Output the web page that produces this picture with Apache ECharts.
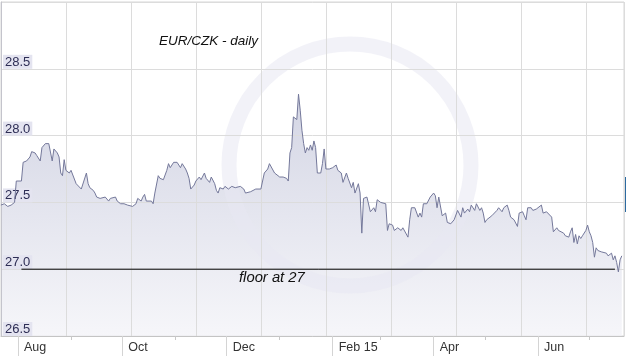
<!DOCTYPE html>
<html><head><meta charset="utf-8">
<script src="https://cdn.jsdelivr.net/npm/echarts@6/dist/echarts.min.js"></script>
<style>html,body{margin:0;padding:0;background:#fff}#c{width:626px;height:359px}</style>
</head><body><div id="c"></div>
<script>
const dates = [
'2014-07-22','2014-07-24','2014-07-26','2014-07-28','2014-07-30','2014-07-31','2014-08-01','2014-08-03','2014-08-04','2014-08-06',
'2014-08-08','2014-08-09','2014-08-10','2014-08-11','2014-08-12','2014-08-14','2014-08-15','2014-08-17','2014-08-19','2014-08-20',
'2014-08-21','2014-08-22','2014-08-24','2014-08-25','2014-08-26','2014-08-27','2014-08-28','2014-08-29','2014-08-31','2014-09-01',
'2014-09-02','2014-09-04','2014-09-05','2014-09-07','2014-09-08','2014-09-10','2014-09-11','2014-09-12','2014-09-14','2014-09-15',
'2014-09-16','2014-09-18','2014-09-19','2014-09-21','2014-09-23','2014-09-24','2014-09-25','2014-09-27','2014-09-28','2014-09-30',
'2014-10-02','2014-10-04','2014-10-05','2014-10-07','2014-10-08','2014-10-09','2014-10-10','2014-10-12','2014-10-13','2014-10-14',
'2014-10-15','2014-10-16','2014-10-18','2014-10-19','2014-10-20','2014-10-22','2014-10-23','2014-10-25','2014-10-27','2014-10-28',
'2014-10-29','2014-10-31','2014-11-01','2014-11-02','2014-11-04','2014-11-05','2014-11-07','2014-11-08','2014-11-09','2014-11-10',
'2014-11-12','2014-11-13','2014-11-15','2014-11-16','2014-11-18','2014-11-19','2014-11-21','2014-11-22','2014-11-24','2014-11-25',
'2014-11-26','2014-11-27','2014-11-29','2014-11-30','2014-12-02','2014-12-04','2014-12-06','2014-12-07','2014-12-09','2014-12-10',
'2014-12-11','2014-12-12','2014-12-15','2014-12-16','2014-12-18','2014-12-19','2014-12-21','2014-12-22','2014-12-23','2014-12-25',
'2014-12-26','2014-12-27','2014-12-29','2014-12-30','2015-01-01','2015-01-03','2015-01-04','2015-01-05','2015-01-06','2015-01-07',
'2015-01-08','2015-01-09','2015-01-10','2015-01-11','2015-01-12','2015-01-13','2015-01-14','2015-01-15','2015-01-16','2015-01-17',
'2015-01-18','2015-01-19','2015-01-20','2015-01-21','2015-01-22','2015-01-23','2015-01-24','2015-01-25','2015-01-26','2015-01-27',
'2015-01-28','2015-01-29','2015-01-30','2015-02-01','2015-02-03','2015-02-04','2015-02-06','2015-02-07','2015-02-09','2015-02-10',
'2015-02-12','2015-02-13','2015-02-14','2015-02-16','2015-02-17','2015-02-18','2015-02-19','2015-02-21','2015-02-22','2015-02-23',
'2015-02-25','2015-02-26','2015-02-27','2015-03-01','2015-03-02','2015-03-04','2015-03-05','2015-03-06','2015-03-08','2015-03-09',
'2015-03-11','2015-03-13','2015-03-14','2015-03-15','2015-03-17','2015-03-18','2015-03-19','2015-03-21','2015-03-23','2015-03-24',
'2015-03-25','2015-03-26','2015-03-28','2015-03-29','2015-03-30','2015-04-01','2015-04-02','2015-04-03','2015-04-04','2015-04-05',
'2015-04-06','2015-04-08','2015-04-09','2015-04-11','2015-04-12','2015-04-13','2015-04-15','2015-04-16','2015-04-17','2015-04-18',
'2015-04-19','2015-04-21','2015-04-22','2015-04-23','2015-04-25','2015-04-26','2015-04-27','2015-04-28','2015-04-29','2015-04-30',
'2015-05-01','2015-05-02','2015-05-03','2015-05-05','2015-05-06','2015-05-08','2015-05-09','2015-05-11','2015-05-12','2015-05-14',
'2015-05-15','2015-05-16','2015-05-17','2015-05-18','2015-05-20','2015-05-21','2015-05-23','2015-05-24','2015-05-25','2015-05-26',
'2015-05-28','2015-05-29','2015-05-31','2015-06-01','2015-06-03','2015-06-04','2015-06-05','2015-06-06','2015-06-07','2015-06-09',
'2015-06-10','2015-06-12','2015-06-13','2015-06-14','2015-06-16','2015-06-17','2015-06-19','2015-06-20','2015-06-21','2015-06-22',
'2015-06-23','2015-06-24','2015-06-25','2015-06-26','2015-06-27','2015-06-28','2015-06-29','2015-06-30','2015-07-01','2015-07-02',
'2015-07-03','2015-07-04','2015-07-05','2015-07-06','2015-07-08','2015-07-09','2015-07-11','2015-07-12','2015-07-14','2015-07-15',
'2015-07-16','2015-07-17','2015-07-18','2015-07-19','2015-07-20'
];
const rates = [
27.48,27.49,27.47,27.48,27.50,27.66,27.66,27.66,27.80,27.81,
27.84,27.88,27.87,27.87,27.85,27.81,27.91,27.94,27.94,27.93,
27.81,27.90,27.87,27.84,27.72,27.70,27.82,27.74,27.72,27.74,
27.73,27.64,27.63,27.60,27.61,27.72,27.64,27.61,27.59,27.57,
27.54,27.53,27.54,27.54,27.51,27.53,27.53,27.54,27.51,27.49,
27.49,27.48,27.47,27.47,27.48,27.49,27.53,27.51,27.54,27.56,
27.51,27.50,27.51,27.49,27.57,27.70,27.68,27.67,27.74,27.79,
27.76,27.80,27.81,27.80,27.76,27.79,27.75,27.72,27.68,27.60,
27.63,27.66,27.69,27.67,27.72,27.68,27.65,27.69,27.64,27.59,
27.57,27.61,27.60,27.62,27.60,27.62,27.61,27.62,27.62,27.62,
27.60,27.57,27.58,27.59,27.60,27.61,27.60,27.60,27.72,27.75,
27.79,27.78,27.72,27.71,27.69,27.69,27.70,27.68,27.66,27.87,
27.91,28.14,28.13,28.12,28.31,28.19,28.04,27.94,27.87,27.91,
27.89,27.93,27.89,27.96,27.91,27.72,27.72,27.72,27.79,27.90,
27.75,27.75,27.75,27.76,27.78,27.74,27.72,27.65,27.72,27.68,
27.61,27.65,27.57,27.64,27.57,27.27,27.53,27.54,27.53,27.43,
27.46,27.43,27.52,27.50,27.51,27.49,27.29,27.34,27.33,27.29,
27.31,27.29,27.31,27.31,27.24,27.37,27.46,27.46,27.39,27.42,
27.39,27.49,27.49,27.48,27.54,27.57,27.55,27.46,27.54,27.53,
27.40,27.42,27.35,27.34,27.35,27.37,27.44,27.45,27.39,27.46,
27.42,27.45,27.43,27.48,27.44,27.49,27.50,27.44,27.46,27.42,
27.35,27.37,27.38,27.40,27.39,27.44,27.46,27.43,27.46,27.48,
27.44,27.39,27.40,27.37,27.32,27.42,27.43,27.40,27.37,27.46,
27.46,27.44,27.45,27.46,27.48,27.42,27.42,27.43,27.43,27.39,
27.28,27.31,27.29,27.28,27.27,27.25,27.24,27.28,27.31,27.20,
27.26,27.19,27.25,27.23,27.25,27.24,27.29,27.33,27.28,27.25,
27.20,27.09,27.16,27.14,27.13,27.13,27.12,27.10,27.12,27.07,
27.10,27.05,26.98,27.07,27.10
];
const yTicks = [26.5, 27.0, 27.5, 28.0, 28.5];
const labelMonths = ['2014-08-01','2014-10-01','2014-12-01','2015-02-01','2015-04-01','2015-06-01'];
const minorMonths = ['2014-09-01','2014-11-01','2015-01-01','2015-03-01','2015-05-01','2015-07-01'];
const monthNames = ['Jan','Feb','Mar','Apr','May','Jun','Jul','Aug','Sep','Oct','Nov','Dec'];
const axisStart = '2014-07-22 01:30';
const axisEnd = '2015-07-21 07:00';
const floorValue = 27;
const floorStart = '2014-08-03';
const floorEnd = '2015-07-16';
const titleText = 'EUR/CZK - daily';
const floorText = 'floor at 27';

function ts(s){
  const p = s.split(/[- :]/).map(Number);
  return new Date(p[0], p[1]-1, p[2], p[3]||0, p[4]||0).getTime();
}
const seriesData = dates.map((d,i)=>[ts(d), rates[i]]);
const xMin = ts(axisStart), xMax = ts(axisEnd);

const chart = echarts.init(document.getElementById('c'), null, {renderer:'canvas'});
const FONT = 'Liberation Sans';
chart.setOption({
  animation:false,
  backgroundColor:'#ffffff',
  title:[
    {text:titleText,left:159,top:34,padding:0,z:8,textStyle:{fontFamily:FONT,fontStyle:'italic',fontWeight:'normal',fontSize:13.5,color:'#111'}},
    {text:floorText,left:239,top:270,padding:0,z:8,textStyle:{fontFamily:FONT,fontStyle:'italic',fontWeight:'normal',fontSize:14.8,color:'#111'}}
  ],
  grid:{left:1,right:2,top:2,bottom:23,show:true,borderColor:'#d6d6d6',borderWidth:1,backgroundColor:'transparent'},
  xAxis:[
    {type:'value',min:xMin,max:xMax,position:'bottom',scale:true,z:4,
     axisLine:{show:true,lineStyle:{color:'#c4c4c4',width:1}},
     axisTick:{show:true,customValues:labelMonths.map(ts),length:20,lineStyle:{color:'#d4d4d4'}},
     axisLabel:{show:true,customValues:labelMonths.map(ts),align:'left',padding:[0,0,0,6],margin:5,
       fontFamily:FONT,fontSize:12.5,color:'#333',
       formatter:function(v){const d=new Date(v);const m=monthNames[d.getMonth()];return d.getMonth()===1?m+' '+String(d.getFullYear()).slice(2):m;}},
     splitLine:{show:false}},
    {type:'value',min:xMin,max:xMax,position:'bottom',scale:true,z:4,
     axisLine:{show:false},
     axisTick:{show:true,customValues:minorMonths.map(ts),length:4,lineStyle:{color:'#c8c8c8'}},
     axisLabel:{show:false},splitLine:{show:false}},
    {type:'value',min:0,max:623/65,interval:1,position:'bottom',z:4,
     axisLine:{show:false},axisTick:{show:false},axisLabel:{show:false},
     splitLine:{show:true,lineStyle:{color:'#dcdcdc',width:1}}}
  ],
  yAxis:{type:'value',min:26.5,max:29,interval:0.5,z:4,
    axisLine:{show:true,lineStyle:{color:'#c4c4cc'}},
    axisTick:{show:false},
    splitLine:{show:true,lineStyle:{color:'#dcdcdc',width:1}},
    axisLabel:{inside:true,customValues:yTicks,margin:2,verticalAlign:'bottom',
      backgroundColor:'#e4e4f0',padding:[1,2,0,2],
      fontFamily:FONT,fontSize:13,color:'#2e2e55',
      formatter:function(v){return Number(v).toFixed(1);}}},
  series:[
    {type:'line',data:seriesData,xAxisIndex:0,symbol:'none',silent:true,z:2,
     lineStyle:{width:0,opacity:0},
     areaStyle:{color:new echarts.graphic.LinearGradient(0,0,0,1,[{offset:0,color:'#c1c4d9'},{offset:1,color:'#f2f2f7'}])}},
    {type:'line',data:seriesData,xAxisIndex:0,symbol:'none',silent:true,z:5,
     lineStyle:{color:'#74789a',width:1}},
    {type:'line',data:[[ts(floorStart),floorValue],[ts(floorEnd),floorValue]],xAxisIndex:0,symbol:'none',silent:true,z:5,
     lineStyle:{color:'#000',width:1}}
  ],
  graphic:[
    {type:'circle',shape:{cx:350,cy:165,r:121},style:{fill:'none',stroke:'rgba(232,232,242,0.55)',lineWidth:15},z:3,silent:true},
    {type:'rect',shape:{x:624,y:177,width:2,height:35},style:{fill:'#2c6aa0'},silent:true}
  ]
});
</script></body></html>
